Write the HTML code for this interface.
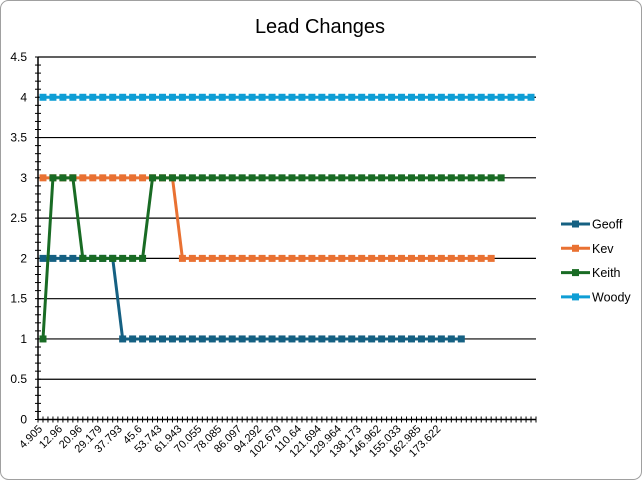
<!DOCTYPE html>
<html><head><meta charset="utf-8"><style>
body{margin:0;background:#fff;font-family:"Liberation Sans",Arial,sans-serif}
svg{display:block}
</style></head><body>
<svg id="chart" width="642" height="480" xmlns="http://www.w3.org/2000/svg" font-family="Liberation Sans, Arial, sans-serif">
<rect x="0.5" y="0.5" width="641" height="479" rx="8" fill="#fff" stroke="#a0a0a0"/>
<text x="320" y="33" text-anchor="middle" font-size="20" fill="#000">Lead Changes</text>
<g id="grid"></g><g id="axes"></g><g id="series"></g><g id="legend"></g>
</svg>
<script>
const labelValues = ["4.905","12.96","20.96","29.179","37.793","45.6","53.743","61.943","70.055","78.085","86.097","94.292","102.679","110.64","121.694","129.964","138.173","146.962","155.033","162.985","173.622"];
const categoryCount = 50;
const yTicks = [0,0.5,1,1.5,2,2.5,3,3.5,4,4.5];
const geoff = [2,2,2,2,2,2,2,2,1,1,1,1,1,1,1,1,1,1,1,1,1,1,1,1,1,1,1,1,1,1,1,1,1,1,1,1,1,1,1,1,1,1,1];
const kev = [3,3,3,3,3,3,3,3,3,3,3,3,3,3,2,2,2,2,2,2,2,2,2,2,2,2,2,2,2,2,2,2,2,2,2,2,2,2,2,2,2,2,2,2,2,2];
const keith = [1,3,3,3,2,2,2,2,2,2,2,3,3,3,3,3,3,3,3,3,3,3,3,3,3,3,3,3,3,3,3,3,3,3,3,3,3,3,3,3,3,3,3,3,3,3,3];
const woody = [4,4,4,4,4,4,4,4,4,4,4,4,4,4,4,4,4,4,4,4,4,4,4,4,4,4,4,4,4,4,4,4,4,4,4,4,4,4,4,4,4,4,4,4,4,4,4,4,4,4];
const seriesNames = ["Geoff","Kev","Keith","Woody"];
const seriesColors = ["#156082","#e97132","#196b24","#0f9ed5"];
const NS="http://www.w3.org/2000/svg";
const L=38,R=536,T=57,B=419.5,YMAX=4.5;
const step=(R-L)/categoryCount;
const xs=i=>L+step*(i+0.5);
const ys=v=>B-(v/YMAX)*(B-T);
function mk(tag,attrs,parent){const e=document.createElementNS(NS,tag);for(const k in attrs)e.setAttribute(k,attrs[k]);parent.appendChild(e);return e;}
const grid=document.getElementById('grid'),axes=document.getElementById('axes'),ser=document.getElementById('series'),leg=document.getElementById('legend');
yTicks.forEach(v=>{
  if(v>0){const g=mk('line',{x1:L,x2:R,y1:ys(v),y2:ys(v),stroke:'#000','stroke-width':1.2},grid);
  
  }
  const t=mk('text',{x:27,y:ys(v)+4,'text-anchor':'end','font-size':12,fill:'#000'},axes);
  
  
  t.textContent=v;
});
for(let v=0;v<=YMAX+0.001;v+=0.1){const y=ys(v);mk('line',{x1:L-3,x2:L+3,y1:y,y2:y,stroke:'#000','stroke-width':1},axes);}
const ya=mk('line',{x1:L,x2:L,y1:T,y2:B,stroke:'#000','stroke-width':1.5},axes);


const xa=mk('line',{x1:L,x2:R,y1:B,y2:B,stroke:'#000','stroke-width':1.5},axes);


for(let i=0;i<=categoryCount*2;i++){const x=L+i*step/2;mk('line',{x1:x,x2:x,y1:B-3,y2:B+3,stroke:'#000','stroke-width':1},axes);}
labelValues.forEach((lab,k)=>{
  const x=xs(k*2),y=B+10;
  const t=mk('text',{x:x,y:y,'text-anchor':'end','font-size':11,fill:'#000',transform:`rotate(-45 ${x} ${y})`},axes);
  
  
  t.textContent=lab;
});
[geoff,kev,keith,woody].forEach((data,si)=>{
  const g=mk('g',{},ser);
  
  
  const pl=mk('polyline',{points:data.map((v,i)=>xs(i)+','+ys(v)).join(' '),fill:'none',stroke:seriesColors[si],'stroke-width':3,'stroke-linejoin':'round'},g);
  
  
  data.forEach((v,i)=>{
    const m=mk('rect',{x:xs(i)-3.5,y:ys(v)-3.5,width:7,height:7,fill:seriesColors[si]},g);
    
    
  });
});
seriesNames.forEach((n,si)=>{
  const y=224+si*24.3;
  const g=mk('g',{},leg);
  
  
  mk('line',{x1:561,x2:590,y1:y,y2:y,stroke:seriesColors[si],'stroke-width':3},g);
  mk('rect',{x:572,y:y-3.5,width:7,height:7,fill:seriesColors[si]},g);
  const t=mk('text',{x:592,y:y+4.5,'font-size':12.5,fill:'#000'},g);
  t.textContent=n;
});
</script>
</body></html>
